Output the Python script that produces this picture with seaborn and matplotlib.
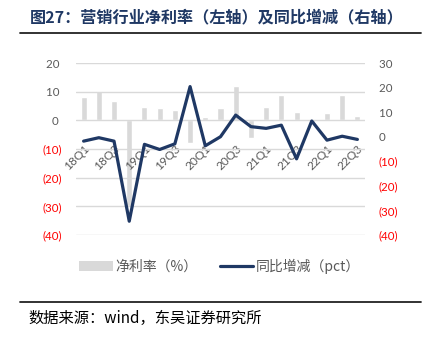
import numpy as np
import pandas as pd
import matplotlib
matplotlib.use('Agg')
import matplotlib.pyplot as plt
import seaborn as sns
from matplotlib.lines import Line2D
from matplotlib.patches import Patch

quarters = ['18Q1', '18Q2', '18Q3', '18Q4', '19Q1', '19Q2', '19Q3', '19Q4',
            '20Q1', '20Q2', '20Q3', '20Q4', '21Q1', '21Q2', '21Q3', '21Q4',
            '22Q1', '22Q2', '22Q3']
net_margin = [8.1, 10.2, 6.6, -30.0, 4.8, 4.4, 3.5, -8.0, 1.2, 4.3,
              12.0, -6.1, 4.7, 8.9, 2.8, -1.0, 2.7, 8.9, 1.5]
yoy_change = [-1.8, -0.4, -1.8, -34.4, -3.1, -5.2, -2.9, 20.4, -3.7, 0.0,
              8.8, 4.1, 3.4, 4.7, -9.0, 6.4, -1.4, 0.2, -1.1]
left_ticks = [20, 10, 0, -10, -20, -30, -40]
right_ticks = [30, 20, 10, 0, -10, -20, -30, -40]
title_text = '图27：营销行业净利率（左轴）及同比增减（右轴）'
source_text = '数据来源：wind，东吴证券研究所'
legend_labels = ['净利率（%）', '同比增减（pct）']

BAR_C = '#D9D9D9'
LINE_C = '#1F3864'
GRAY = '#595959'
RED = '#FF0000'

sns.set_theme(style='white')
plt.rcParams['font.family'] = ['Lato', 'Noto Sans CJK SC', 'DejaVu Sans']

df = pd.DataFrame({'quarter': quarters, 'net': net_margin, 'yoy': yoy_change})
df['pos'] = np.arange(len(df))

fig = plt.figure(figsize=(4.25, 3.41), dpi=100)
ax = fig.add_axes([76/425, 1-235/341, (365-76)/425, (235-63)/341])

sns.barplot(data=df, x='quarter', y='net', color=BAR_C, width=0.4,
            saturation=1, ax=ax, zorder=1)
ax.set_ylim(-40, 20)
ax.set_xlim(-0.5, len(df)-0.5)

ax2 = ax.twinx()
sns.lineplot(data=df, x='pos', y='yoy', color=LINE_C, linewidth=2.3, ax=ax2,
             zorder=3)
ax2.set_ylim(-40, 30)
ax2.set_xlim(-0.5, len(df)-0.5)

def fmt(v):
    return f'({abs(v)})' if v < 0 else f'{v} '

ax.set_yticks(left_ticks)
ax.set_yticklabels([fmt(v) for v in left_ticks])
ax.yaxis.grid(True, color='#D9D9D9', linewidth=1.0)
ax.set_axisbelow('line')
for lab, v in zip(ax.get_yticklabels(), left_ticks):
    lab.set_color(RED if v < 0 else GRAY)
    lab.set_fontsize(8.3)
ax.tick_params(axis='y', length=0, pad=10)

ax2.set_yticks(right_ticks)
ax2.set_yticklabels([fmt(v) for v in right_ticks])
for lab, v in zip(ax2.get_yticklabels(), right_ticks):
    lab.set_color(RED if v < 0 else GRAY)
    lab.set_fontsize(8.3)
ax2.tick_params(axis='y', length=0, pad=10)
ax2.grid(False)

ax.spines['bottom'].set_position(('data', 0))
ax.set_xticks(df['pos'][::2])
ax.set_xticklabels(df['quarter'][::2], rotation=45, ha='right',
                   rotation_mode='anchor', color=GRAY, fontsize=8.6)
ax.tick_params(axis='x', length=0, pad=16)
for a in (ax, ax2):
    for s in a.spines.values():
        s.set_visible(False)
    a.set_xlabel('')
    a.set_ylabel('')
ax.set_zorder(ax2.get_zorder() - 1)
ax.patch.set_visible(False)

handles = [Patch(facecolor=BAR_C, edgecolor='none'),
           Line2D([], [], color=LINE_C, linewidth=2.3)]
fig.legend(handles, legend_labels, loc='center',
           bbox_to_anchor=(0.517, 1-266/341), ncol=2, frameon=False,
           handlelength=2.4, handleheight=0.7, columnspacing=1.6,
           handletextpad=0.2, labelcolor=GRAY,
           prop={'family': ['Noto Sans CJK SC', 'DejaVu Sans'], 'size': 10})

fig.text(30/425, 1-17/341, title_text, color=LINE_C, fontsize=11.6,
         fontweight='bold', va='center', ha='left',
         family=['Noto Sans CJK SC', 'DejaVu Sans'])
fig.add_artist(Line2D([20/425, 421/425], [1-33/341, 1-33/341],
                      color='#222222', linewidth=1.3, transform=fig.transFigure))
fig.add_artist(Line2D([20/425, 421/425], [1-302/341, 1-302/341],
                      color='#222222', linewidth=1.3, transform=fig.transFigure))
fig.text(28/425, 1-318/341, source_text, color='black', fontsize=11,
         va='center', ha='left', family=['Noto Sans CJK SC', 'DejaVu Sans'])

fig.savefig('out.png', dpi=100)
